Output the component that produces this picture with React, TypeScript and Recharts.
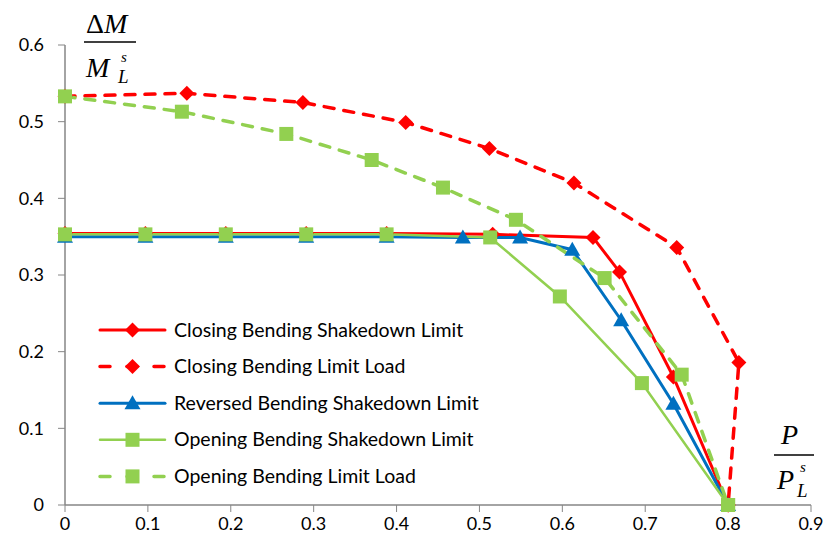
import React from 'react';
import { LineChart, Line, XAxis, YAxis } from 'recharts';

// x = P / P_L^s, y = ΔM / M_L^s
const closingShakedownX = [0, 0.097, 0.194, 0.291, 0.388, 0.516, 0.637, 0.669, 0.734, 0.8];
const closingShakedownY = [0.354, 0.354, 0.354, 0.354, 0.354, 0.353, 0.349, 0.304, 0.167, 0];

const closingLimitX = [0, 0.147, 0.287, 0.411, 0.512, 0.614, 0.738, 0.813, 0.8];
const closingLimitY = [0.533, 0.537, 0.525, 0.499, 0.465, 0.42, 0.336, 0.186, 0];

const reversedShakedownX = [0, 0.097, 0.194, 0.291, 0.388, 0.48, 0.549, 0.612, 0.671, 0.734, 0.8];
const reversedShakedownY = [0.35, 0.35, 0.35, 0.35, 0.35, 0.349, 0.349, 0.333, 0.241, 0.132, 0];

const openingShakedownX = [0, 0.097, 0.194, 0.291, 0.388, 0.513, 0.597, 0.696, 0.8];
const openingShakedownY = [0.353, 0.353, 0.353, 0.353, 0.353, 0.349, 0.272, 0.159, 0];

const openingLimitX = [0, 0.141, 0.267, 0.37, 0.456, 0.544, 0.651, 0.744, 0.8];
const openingLimitY = [0.533, 0.513, 0.484, 0.45, 0.414, 0.372, 0.296, 0.17, 0];

const xTicks = [0, 0.1, 0.2, 0.3, 0.4, 0.5, 0.6, 0.7, 0.8, 0.9];
const yTicks = [0, 0.1, 0.2, 0.3, 0.4, 0.5, 0.6];

const RED = '#ff0000';
const BLUE = '#0070c0';
const GREEN = '#92d050';
const AXIS = '#868686';
const FONT = 'Lato, "Open Sans", sans-serif';

const zip = (xs: number[], ys: number[]) => xs.map((x, i) => ({ x, y: ys[i] }));

type MarkerKind = 'diamond' | 'triangle' | 'square';

function Marker({ kind, cx, cy, color }: { kind: MarkerKind; cx: number; cy: number; color: string }) {
  if (kind === 'diamond') {
    const r = 7.5;
    return <path d={`M${cx},${cy - r}L${cx + r},${cy}L${cx},${cy + r}L${cx - r},${cy}Z`} fill={color} />;
  }
  if (kind === 'triangle') {
    return <path d={`M${cx},${cy - 8}L${cx + 8},${cy + 6}L${cx - 8},${cy + 6}Z`} fill={color} />;
  }
  return <rect x={cx - 7} y={cy - 7} width={14} height={14} fill={color} />;
}

const makeDot = (kind: MarkerKind, color: string) => (props: any) => {
  const { cx, cy, index } = props;
  if (cx == null || cy == null) return <g key={`d-${index}`} />;
  return <Marker key={`d-${index}`} kind={kind} cx={cx} cy={cy} color={color} />;
};

const series = [
  { name: 'Closing Bending Shakedown Limit', data: zip(closingShakedownX, closingShakedownY), color: RED, kind: 'diamond' as MarkerKind, dash: undefined, width: 3 },
  { name: 'Closing Bending Limit Load', data: zip(closingLimitX, closingLimitY), color: RED, kind: 'diamond' as MarkerKind, dash: '10 10', width: 3.5 },
  { name: 'Reversed Bending Shakedown Limit', data: zip(reversedShakedownX, reversedShakedownY), color: BLUE, kind: 'triangle' as MarkerKind, dash: undefined, width: 3 },
  { name: 'Opening Bending Shakedown Limit', data: zip(openingShakedownX, openingShakedownY), color: GREEN, kind: 'square' as MarkerKind, dash: undefined, width: 2.5 },
  { name: 'Opening Bending Limit Load', data: zip(openingLimitX, openingLimitY), color: GREEN, kind: 'square' as MarkerKind, dash: '10 10', width: 3.5 },
];

function LegendBox() {
  return (
    <svg width={420} height={190} style={{ position: 'absolute', left: 95, top: 312 }}>
      {series.map((s, i) => {
        const y = 18 + i * 36.6;
        return (
          <g key={s.name}>
            <line x1={5} x2={70} y1={y} y2={y} stroke={s.color} strokeWidth={s.width} strokeLinecap="round" strokeDasharray={s.dash ? '10 17' : undefined} />
            <Marker kind={s.kind} cx={37.5} cy={y} color={s.color} />
            <text x={79} y={y + 6.5} fontSize={19.5} fontFamily={FONT} fill="#000">{s.name}</text>
          </g>
        );
      })}
    </svg>
  );
}

export default function App() {
  return (
    <div style={{ position: 'absolute', left: 0, top: 0, width: 828, height: 558, background: '#fff' }}>
      <LineChart width={828} height={558} margin={{ top: 45, right: 17, left: 15, bottom: 13 }}>
        <XAxis
          type="number"
          dataKey="x"
          domain={[0, 0.9]}
          ticks={xTicks}
          interval={0}
          stroke={AXIS}
          tickSize={7}
          tickMargin={5}
          height={40}
          tick={{ fill: '#000', fontSize: 18, fontFamily: FONT }}
          tickLine={{ stroke: AXIS }}
          axisLine={{ stroke: AXIS, strokeWidth: 1.5 }}
        />
        <YAxis
          type="number"
          dataKey="y"
          domain={[0, 0.6]}
          ticks={yTicks}
          interval={0}
          width={50}
          stroke={AXIS}
          tickSize={7}
          tickMargin={14}
          tick={{ fill: '#000', fontSize: 18, fontFamily: FONT }}
          tickLine={{ stroke: AXIS }}
          axisLine={{ stroke: AXIS, strokeWidth: 1.5 }}
        />
        {series.map((s) => (
          <Line
            key={s.name}
            data={s.data}
            dataKey="y"
            name={s.name}
            type="linear"
            stroke={s.color}
            strokeWidth={s.width}
            strokeDasharray={s.dash}
            strokeLinecap="round"
            dot={makeDot(s.kind, s.color)}
            activeDot={false}
            isAnimationActive={false}
          />
        ))}
      </LineChart>
      <LegendBox />
      <svg width={828} height={558} style={{ position: 'absolute', left: 0, top: 0, pointerEvents: 'none' }}>
        <g fontFamily='"Liberation Serif", "DejaVu Serif", serif' fill="#000">
          <text x={86} y={33} fontSize={28}><tspan>Δ</tspan><tspan fontStyle="italic">M</tspan></text>
          <line x1={84} x2={136} y1={42} y2={42} stroke="#000" strokeWidth={1.3} />
          <text x={86} y={77} fontSize={28} fontStyle="italic">M</text>
          <text x={121} y={62} fontSize={15} fontStyle="italic">s</text>
          <text x={118} y={83} fontSize={19} fontStyle="italic">L</text>

          <text x={781} y={444} fontSize={28} fontStyle="italic">P</text>
          <line x1={774} x2={814} y1={455} y2={455} stroke="#000" strokeWidth={1.3} />
          <text x={777} y={489} fontSize={28} fontStyle="italic">P</text>
          <text x={800} y={472} fontSize={15} fontStyle="italic">s</text>
          <text x={797} y={497} fontSize={19} fontStyle="italic">L</text>
        </g>
      </svg>
    </div>
  );
}
